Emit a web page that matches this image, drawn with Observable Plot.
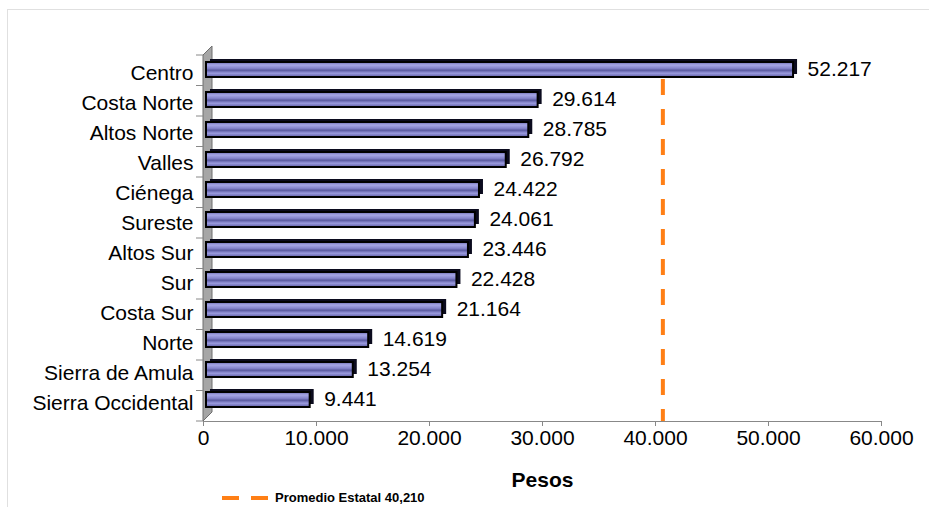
<!DOCTYPE html>
<html><head><meta charset="utf-8">
<script src="https://cdn.jsdelivr.net/npm/d3@7"></script>
<script src="https://cdn.jsdelivr.net/npm/@observablehq/plot@0.6"></script>
<style>
body{margin:0;background:#fff;font-family:"Liberation Sans",Arial,sans-serif;}
#wrap{position:relative;width:929px;height:507px;overflow:hidden;}
#frame{position:absolute;left:7px;top:9px;width:960px;height:560px;border:1px solid #e0e0e0;}
#chart{position:absolute;left:0;top:0;}
#legend{position:absolute;left:222px;top:490px;font:bold 13px "Liberation Sans",Arial,sans-serif;display:flex;align-items:center;color:#000;}
#legend svg{margin-right:5px;}
svg [aria-label="x-axis tick"]{stroke:#888;}
</style></head>
<body><div id="wrap"><div id="frame"></div><div id="chart"></div><div id="legend"></div></div>
<script>
const regions = ["Centro","Costa Norte","Altos Norte","Valles","Ciénega","Sureste","Altos Sur","Sur","Costa Sur","Norte","Sierra de Amula","Sierra Occidental"];
const pesos = [52217,29614,28785,26792,24422,24061,23446,22428,21164,14619,13254,9441];
const promedioEstatal = 40210;
const xTicks = [0,10000,20000,30000,40000,50000,60000];
const xLabel = "Pesos";
const legendLabel = "Promedio Estatal 40,210";

const fmt = d => d3.format(",")(d).replace(/,/g, ".");
const data = regions.map((r, i) => ({region: r, value: pesos[i]}));

// 3D wall and category boundary ticks, derived from the scales
function wallMark(index, scales, values, dims) {
  const x0 = scales.x(0);
  const top = dims.marginTop, bottom = dims.height - dims.marginBottom;
  const step = (bottom - top) / regions.length;
  const depth = 9;
  const g = d3.create("svg:g");
  g.append("polygon")
    .attr("points", [[x0, bottom], [x0, top], [x0 + depth, top - depth], [x0 + depth, bottom - depth]].map(p => p.join(",")).join(" "))
    .attr("fill", "#a6a6a6").attr("stroke", "#6e6e6e").attr("stroke-width", 1);
  for (let i = 0; i <= regions.length; i++) {
    g.append("line").attr("x1", x0 - 7).attr("x2", x0)
      .attr("y1", top + i * step).attr("y2", top + i * step)
      .attr("stroke", "#888").attr("stroke-width", 1);
  }
  return g.node();
}

const chart = Plot.plot({
  width: 929, height: 507,
  marginLeft: 203, marginRight: 48, marginTop: 55, marginBottom: 86,
  style: {fontFamily: "Liberation Sans, Arial, sans-serif", fontSize: "21px", color: "#000", background: "transparent", overflow: "visible"},
  x: {domain: [0, 60000]},
  y: {domain: regions, paddingInner: 0.5, paddingOuter: 0.25},
  marks: [
    wallMark,
    Plot.frame({anchor: "bottom", stroke: "#888"}),
    Plot.axisX({ticks: xTicks, tickFormat: fmt, tickSize: 5, tickPadding: 4, fontSize: 21, label: null}),
    Plot.axisY({tickSize: 0, tickPadding: 10, fontSize: 21, dy: -1, label: null}),
    Plot.barX(data, {x: "value", y: "region", fill: "#0b0b1e", dx: 4, dy: -7, insetLeft: 3}),
    Plot.barX(data, {x: "value", y: "region", fill: "url(#barGrad)", stroke: "#000", strokeWidth: 2, dy: -4, insetLeft: 3}),
    Plot.ruleX([promedioEstatal], {x: d => d, stroke: "#ff7f15", strokeWidth: 4, strokeDasharray: "16,14", insetTop: 24, dx: 5}),
    Plot.text(data, {x: "value", y: "region", text: d => fmt(d.value), textAnchor: "start", dx: 14, dy: -5, fontSize: 21, fill: "#000"}),
    Plot.text([xLabel], {text: d => d, frameAnchor: "bottom", dy: 65, fontWeight: "bold", fontSize: 21, fill: "#000"})
  ]
});

const defs = d3.select(chart).insert("defs", ":first-child");
const grad = defs.append("linearGradient").attr("id", "barGrad").attr("x1", 0).attr("x2", 0).attr("y1", 0).attr("y2", 1);
[[0, "#6a6ab0"], [0.2, "#a6a6e6"], [0.42, "#8484cc"], [0.55, "#5a5aa0"], [0.75, "#9a9ade"], [1, "#5c5ca4"]]
  .forEach(([o, c]) => grad.append("stop").attr("offset", o).attr("stop-color", c));

document.getElementById("chart").appendChild(chart);

const legend = d3.select("#legend");
const ls = legend.append("svg").attr("width", 48).attr("height", 8);
ls.append("line").attr("x1", 0).attr("x2", 48).attr("y1", 4).attr("y2", 4)
  .attr("stroke", "#ff7f15").attr("stroke-width", 4).attr("stroke-dasharray", "17,12");
legend.append("span").text(legendLabel);
</script>
</body></html>
